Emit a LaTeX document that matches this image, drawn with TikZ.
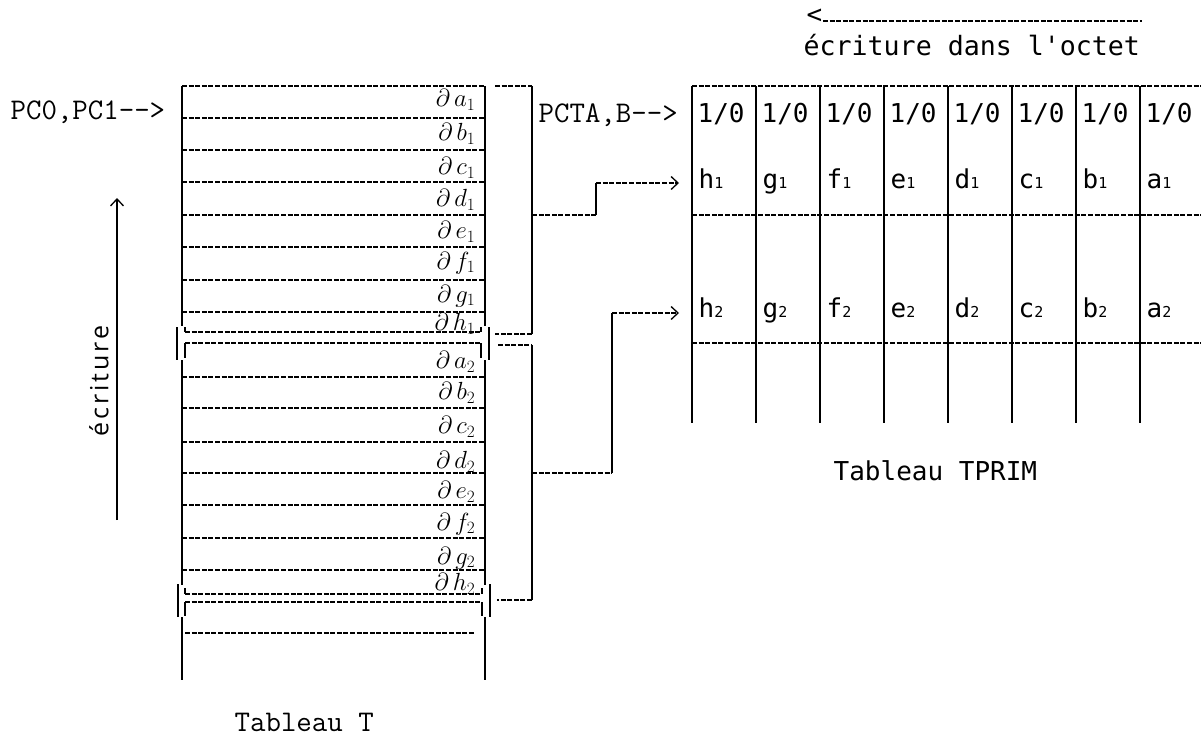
\documentclass[tikz,border=0pt]{standalone}
\usepackage{fontspec}
\newfontfamily\lgoth{DejaVu Sans Mono}
\newfontfamily\hand[LetterSpace=12]{Open Sans}
\usetikzlibrary{arrows.meta}
\newcommand\subdig[1]{{\fontsize{15bp}{15bp}\selectfont #1}}
\begin{document}
\begin{tikzpicture}[x=1bp,y=-1bp,line width=1.3bp,
  hdash/.style={dash pattern=on 5bp off 1.6bp},
  courtxt/.style={inner sep=0pt,font=\ttfamily\fontsize{30bp}{32bp}\selectfont},
  goth/.style={inner sep=0pt,font=\lgoth\fontsize{26bp}{28bp}\selectfont},
  hw/.style={inner sep=0pt,anchor=east,font=\fontsize{27bp}{29bp}\selectfont},
  tip/.style={-{Straight Barb[length=7bp,width=13bp,line width=1.3bp]}}]
\useasboundingbox (0,0) rectangle (1201,737);

% ---------- left table (Tableau T) ----------
\foreach \y in {86,118,150,182,215,247,280,312,377,408,442,473,505,538,570}
  \draw[hdash] (182,\y) -- (485,\y);
\foreach \y in {332,343,594,602} \draw[hdash] (185,\y) -- (481,\y);
\draw[hdash] (185,633) -- (475,633);
\foreach \x in {182,485} {
  \draw (\x,86) -- (\x,326);
  \draw (\x,360) -- (\x,585);
  \draw (\x,617) -- (\x,680);
}
% double-line marks
\draw (177,327) -- (177,360);
\draw (185,327) -- (185,332) (185,343) -- (185,358);
\draw (489,327) -- (489,360);
\draw (481,327) -- (481,332) (481,343) -- (481,358);
\draw (178,584) -- (178,617);
\draw (185,588) -- (185,594) (185,602) -- (185,616);
\draw (490,584) -- (490,617);
\draw (482,588) -- (482,594) (482,602) -- (482,616);

% handwritten address labels
\foreach \yy/\l/\i [count=\k] in {100/a/1,134/b/1,168/c/1,200/d/1,232/e/1,263/f/1,296/g/1,324/h/1,
  362/a/2,393/b/2,427/c/2,462/d/2,492/e/2,524/f/2,558/g/2,584/h/2}
  \node[hw] (lab\k) at (476,\yy) {$\partial\,\l_{\i}$};

\node[courtxt,anchor=base west] (pc) at (10,120) {PC0,PC1-->};
\node[courtxt,anchor=base west] (tabT) at (234,731) {Tableau T};

% vertical arrow + handwritten label
\coordinate (arrB) at (117,520);
\coordinate (arrT) at (117,198);
\draw[tip] (arrB) -- (arrT);
\node[inner sep=0pt,rotate=90,font=\hand\fontsize{25bp}{27bp}\selectfont] (ecr) at (99,381) {écriture};

% brackets on the right of table T
\coordinate (b1a) at (495,86);
\coordinate (b1b) at (532,86);
\coordinate (b1c) at (532,334);
\coordinate (b1d) at (495,334);
\draw[hdash] (b1a) -- (b1b);
\draw (b1b) -- (b1c);
\draw[hdash] (b1c) -- (b1d);
\coordinate (b2a) at (498,345);
\coordinate (b2b) at (532,345);
\coordinate (b2c) at (532,600);
\coordinate (b2d) at (497,600);
\draw[hdash] (b2a) -- (b2b);
\draw (b2b) -- (b2c);
\draw[hdash] (b2c) -- (b2d);

% ---------- right table (Tableau TPRIM) ----------
\foreach \y in {86,215,343} \draw[hdash] (692,\y) -- (1201,\y);
\foreach \i in {0,...,7} \draw (692+64*\i,86) -- (692+64*\i,423);
\foreach \i in {0,...,7}
  \node[goth,anchor=base west] (bit\i) at (697+64*\i,122) {1/0};
\foreach \l [count=\i from 0] in {h,g,f,e,d,c,b,a} {
  \node[goth,anchor=base west] (r1\l) at (698+64*\i,188) {\l\subdig{1}};
  \node[goth,anchor=base west] (r2\l) at (698+64*\i,317) {\l\subdig{2}};
}
\node[courtxt,anchor=base west] (pcta) at (538,122) {PCTA,B-->};
\node[goth,anchor=base west] (tabP) at (833,480) {Tableau TPRIM};

% connectors from brackets to rows
\coordinate (c1a) at (532,215);
\coordinate (c1b) at (596,215);
\coordinate (c1c) at (596,183);
\coordinate (c1d) at (679,183);
\draw[hdash] (c1a) -- (c1b);
\draw (c1b) -- (c1c);
\draw[hdash,tip] (c1c) -- (c1d);
\coordinate (c2a) at (532,473);
\coordinate (c2b) at (612,473);
\coordinate (c2c) at (612,313);
\coordinate (c2d) at (679,313);
\draw[hdash] (c2a) -- (c2b);
\draw (c2b) -- (c2c);
\draw[hdash,tip] (c2c) -- (c2d);

% top direction arrow
\node[goth,anchor=base west] (lt) at (806,24) {<};
\coordinate (tl) at (1142,21);
\draw[hdash] (lt.base east) ++(0,-3) coordinate (tlstart) -- (tl);
\node[goth,anchor=base west,font=\lgoth\fontsize{26.6bp}{28bp}\selectfont] (ecr2) at (803,56) {écriture dans l'octet};
\end{tikzpicture}
\end{document}
